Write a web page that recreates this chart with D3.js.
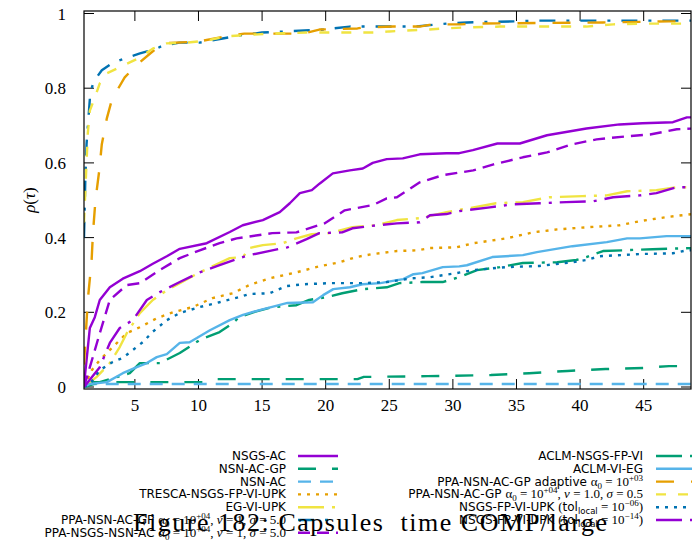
<!DOCTYPE html>
<html><head><meta charset="utf-8">
<script src="https://cdn.jsdelivr.net/npm/d3@7"></script>
<style>body{margin:0;background:#fff}svg{display:block}</style>
</head><body>
<svg id="c" width="692" height="544"></svg>
<script>
// ---- data (tau, rho) ----
const NSGS_AC = [[1,0.005],[1.46,0.158],[1.85,0.187],[2.24,0.233],[3.03,0.267],[4.05,0.29],[5.39,0.31],[6.41,0.33],[7.51,0.35],[8.53,0.37],[10.65,0.385],[12.46,0.415],[13.48,0.433],[15.06,0.447],[16.39,0.468],[17.18,0.492],[17.97,0.519],[18.91,0.527],[19.54,0.545],[20.56,0.572],[21.9,0.58],[22.92,0.585],[23.7,0.6],[24.8,0.61],[26.06,0.612],[27.4,0.623],[29.5,0.626],[30.5,0.626],[31.57,0.634],[33.5,0.652],[35.26,0.652],[37.4,0.674],[40.5,0.692],[43.1,0.703],[44.9,0.706],[47.3,0.709],[48.4,0.722],[48.8,0.722]];
const NSN_AC_GP = [[1,0],[1.5,0.013],[10.5,0.013],[11,0.021],[22.5,0.021],[23,0.027],[28,0.029],[33,0.032],[36,0.037],[39,0.043],[42,0.048],[45,0.051],[47,0.056],[48.8,0.056]];
const NSN_AC = [[1,0.004],[1.3,0.008],[48.8,0.008]];
const TRESCA = [[1,0],[1.61,0.045],[2.24,0.072],[3.26,0.107],[4.36,0.144],[5.39,0.16],[6.72,0.184],[7.98,0.2],[9.55,0.214],[11.1,0.238],[12.7,0.251],[14.0,0.273],[15.6,0.291],[17.7,0.307],[19.5,0.323],[21.1,0.334],[22.4,0.348],[23.7,0.356],[25.6,0.364],[27.2,0.366],[28.2,0.372],[30.3,0.374],[31.6,0.385],[34.2,0.398],[36.3,0.414],[38.2,0.422],[40.7,0.428],[43.1,0.433],[44.7,0.444],[46.8,0.455],[48.8,0.463]];
const EG_VI_UPK = [[1,0],[2.0,0.027],[3.03,0.064],[3.81,0.107],[4.36,0.144],[5.39,0.198],[6.41,0.233],[7.51,0.259],[8.53,0.278],[10.1,0.307],[12.46,0.345],[13.5,0.348],[14.0,0.372],[15.06,0.38],[16.6,0.385],[17.7,0.398],[18.9,0.409],[20.3,0.412],[22.1,0.428],[24.0,0.433],[25.6,0.447],[27.4,0.452],[29.5,0.468],[31.3,0.479],[33.4,0.492],[35.5,0.495],[37.6,0.508],[40.2,0.511],[42.1,0.513],[43.7,0.524],[46.0,0.527],[47.6,0.535],[48.8,0.535]];
const PPA_GP_NU5 = [[1,0.40],[1.1,0.55],[1.2,0.65],[1.5,0.79],[1.8,0.82],[2.4,0.848],[3.3,0.869],[4.4,0.882],[5.4,0.893],[6.7,0.906],[7.2,0.914],[8.5,0.922],[10.1,0.922],[11.9,0.933],[13.2,0.941],[15.0,0.949],[16.9,0.952],[19.8,0.957],[20.6,0.96],[21.9,0.965],[27.0,0.965],[29.5,0.973],[31.1,0.976],[34.8,0.979],[36.5,0.981],[48.8,0.981]];
const PPA_NSGS_NSN = [[1,0],[1.46,0.053],[2.24,0.144],[3.03,0.233],[4.36,0.273],[5.39,0.278],[6.96,0.313],[8.53,0.345],[10.1,0.366],[11.66,0.385],[13.0,0.398],[15.8,0.412],[17.7,0.414],[19.9,0.438],[21.5,0.473],[23.7,0.487],[24.8,0.505],[25.6,0.508],[27.4,0.548],[29.2,0.567],[31.6,0.58],[33.2,0.596],[35.5,0.615],[37.4,0.628],[39.4,0.65],[41.3,0.663],[43.6,0.671],[45.5,0.676],[47.6,0.69],[48.8,0.692]];
const ACLM_NSGS = [[1,0],[2.24,0.013],[4.6,0.037],[5.39,0.064],[6.96,0.064],[8.53,0.091],[10.1,0.126],[11.66,0.147],[12.7,0.171],[13.2,0.187],[14.3,0.2],[15.8,0.214],[17.7,0.219],[18.7,0.233],[20.1,0.241],[21.3,0.251],[22.9,0.262],[24.8,0.267],[25.8,0.278],[27.6,0.281],[29.2,0.281],[30.5,0.294],[31.9,0.313],[33.7,0.321],[35.5,0.332],[38.2,0.334],[39.7,0.34],[40.5,0.348],[41.8,0.364],[45.7,0.369],[48.8,0.372]];
const ACLM_VI_EG = [[1,0],[1.46,0.008],[2.8,0.013],[4.05,0.037],[5.15,0.053],[5.94,0.064],[6.72,0.08],[7.51,0.088],[8.53,0.118],[9.3,0.12],[9.87,0.131],[10.9,0.152],[12.46,0.179],[13.5,0.193],[14.8,0.206],[16.1,0.217],[17.0,0.225],[19.0,0.227],[19.8,0.246],[20.6,0.262],[21.9,0.267],[22.9,0.275],[24.3,0.278],[25.6,0.286],[26.1,0.289],[26.9,0.302],[27.6,0.305],[29.2,0.321],[30.5,0.323],[31.1,0.326],[33.1,0.348],[35.5,0.353],[36.6,0.361],[39.4,0.377],[42.1,0.388],[43.7,0.398],[44.7,0.398],[46.8,0.404],[48.8,0.404]];
const PPA_ADAPTIVE = [[1,0.06],[1.3,0.233],[1.6,0.34],[1.7,0.41],[1.9,0.5],[2.2,0.58],[2.4,0.65],[2.8,0.72],[3.2,0.77],[3.6,0.794],[4.2,0.829],[5.1,0.861],[6.2,0.893],[7.2,0.92],[10,0.925],[12.5,0.941],[13.6,0.946],[18.2,0.946],[19.5,0.957],[22.5,0.96],[23.0,0.963],[25.3,0.965],[27.4,0.965],[28.4,0.971],[30.6,0.971],[31.4,0.973],[41.8,0.976],[47.0,0.979],[48.8,0.979]];
const PPA_GP_SIG05 = [[1,0.44],[1.14,0.553],[1.3,0.68],[1.46,0.74],[1.85,0.775],[2.24,0.813],[2.8,0.84],[3.8,0.856],[4.6,0.869],[5.4,0.882],[6.4,0.906],[7.5,0.92],[9.1,0.922],[10.7,0.928],[12.2,0.939],[13.2,0.941],[15.6,0.946],[18.5,0.949],[24.0,0.949],[25.0,0.952],[28.0,0.957],[29.3,0.96],[31.1,0.963],[33.7,0.965],[40.5,0.965],[42.6,0.971],[45.3,0.973],[48.8,0.973]];
const FPVI_TOL6 = [[1,0],[1.46,0.008],[2.24,0.045],[3.26,0.067],[4.05,0.078],[4.84,0.099],[5.62,0.12],[6.41,0.148],[7.51,0.179],[8.53,0.198],[10.1,0.214],[11.66,0.227],[13.2,0.241],[14.0,0.249],[15.6,0.251],[16.9,0.27],[18.2,0.275],[20.3,0.278],[22.9,0.278],[24.8,0.281],[26.8,0.291],[28.2,0.294],[30.3,0.305],[31.6,0.313],[34.2,0.321],[36.8,0.324],[39.4,0.334],[40.5,0.34],[41.5,0.35],[44.7,0.356],[47.3,0.358],[48.4,0.366],[48.8,0.366]];
const FPVI_TOL14 = [[1,0],[2.24,0.053],[3.03,0.118],[3.81,0.158],[4.84,0.179],[5.94,0.233],[6.96,0.254],[8.53,0.281],[10.1,0.307],[11.66,0.326],[13.2,0.345],[14.0,0.353],[15.8,0.366],[17.0,0.374],[18.5,0.396],[19.5,0.412],[21.3,0.414],[22.1,0.425],[24.0,0.433],[25.6,0.438],[27.4,0.441],[28.2,0.46],[29.5,0.463],[30.5,0.471],[32.9,0.481],[34.7,0.489],[36.8,0.492],[38.9,0.495],[41.0,0.497],[42.6,0.508],[44.7,0.513],[46.0,0.519],[47.6,0.535],[48.8,0.535]];

const xTicks = [5,10,15,20,25,30,35,40,45];
const yTicks = [0,0.2,0.4,0.6,0.8,1];
const yTickLabels = ["0","0.2","0.4","0.6","0.8","1"];

// series order (legend column-major)
const series = [
  {d:NSGS_AC, c:"#9400D3", dash:null, lab:[["s","NSGS-AC"]]},
  {d:NSN_AC_GP, c:"#009E73", dash:"18,16", lab:[["s","NSN-AC-GP"]]},
  {d:NSN_AC, c:"#56B4E9", dash:"13,9", lab:[["s","NSN-AC"]]},
  {d:TRESCA, c:"#E69F00", dash:"3,6", lab:[["s","TRESCA-NSGS-FP-VI-UPK"]]},
  {d:EG_VI_UPK, c:"#F0E442", dash:"26,8,3,8", lab:[["s","EG-VI-UPK"]]},
  {d:PPA_GP_NU5, c:"#0072B2", dash:"16,11,3,11", lab:[["s","PPA-NSN-AC-GP "],["m","α"],["sub","0"],["m"," = 10"],["sup","+04"],["m",", "],["mi","ν"],["m"," = 1, "],["mi","σ"],["m"," = 5.0"]]},
  {d:PPA_NSGS_NSN, c:"#9400D3", dash:"12,7", lab:[["s","PPA-NSGS-NSN-AC "],["m","α"],["sub","0"],["m"," = 10"],["sup","+04"],["m",", "],["mi","ν"],["m"," = 1, "],["mi","σ"],["m"," = 5.0"]]},
  {d:ACLM_NSGS, c:"#009E73", dash:"26,8,3,8", lab:[["s","ACLM-NSGS-FP-VI"]]},
  {d:ACLM_VI_EG, c:"#56B4E9", dash:null, lab:[["s","ACLM-VI-EG"]]},
  {d:PPA_ADAPTIVE, c:"#E69F00", dash:"18,17", lab:[["s","PPA-NSN-AC-GP adaptive "],["m","α"],["sub","0"],["m"," = 10"],["sup","+03"]]},
  {d:PPA_GP_SIG05, c:"#F0E442", dash:"10,12", lab:[["s","PPA-NSN-AC-GP "],["m","α"],["sub","0"],["m"," = 10"],["sup","+04"],["m",", "],["mi","ν"],["m"," = 1.0, "],["mi","σ"],["m"," = 0.5"]]},
  {d:FPVI_TOL6, c:"#0072B2", dash:"3,6", lab:[["s","NSGS-FP-VI-UPK "],["m","("],["s","tol"],["ssub","local"],["m"," = 10"],["sup","−06"],["m",")"]]},
  {d:FPVI_TOL14, c:"#9400D3", dash:"26,8,3,8", lab:[["s","NSGS-FP-VI-UPK "],["m","("],["s","tol"],["ssub","local"],["m"," = 10"],["sup","−14"],["m",")"]]}
];

const svg = d3.select("#c");
const L=84, R=691, T=11, B=389;
const x = d3.scaleLinear().domain([1, 1+(R-L)/12.72]).range([L,R]);
const y = d3.scaleLinear().domain([(387-B)/373.5, (387-T)/373.5]).range([B,T]);
const serif = "'Liberation Serif', 'DejaVu Serif', serif";
const sans = "'DejaVu Sans', sans-serif";

svg.append("clipPath").attr("id","clip").append("rect").attr("x",L).attr("y",T).attr("width",R-L).attr("height",B-T);

// ticks
const tk = svg.append("g").attr("stroke","#000").attr("stroke-width",1);
xTicks.forEach(t=>{
  tk.append("line").attr("x1",x(t)).attr("x2",x(t)).attr("y1",B).attr("y2",B-10);
  tk.append("line").attr("x1",x(t)).attr("x2",x(t)).attr("y1",T).attr("y2",T+10);
});
yTicks.forEach(t=>{
  tk.append("line").attr("x1",L).attr("x2",L+10).attr("y1",y(t)).attr("y2",y(t));
  tk.append("line").attr("x1",R).attr("x2",R-10).attr("y1",y(t)).attr("y2",y(t));
});
xTicks.forEach(t=>{
  svg.append("text").attr("x",x(t)).attr("y",411).attr("text-anchor","middle")
    .attr("font-family",serif).attr("font-size",17).text(t);
});
yTicks.forEach((t,i)=>{
  svg.append("text").attr("x",66).attr("y",y(t)+6).attr("text-anchor","end")
    .attr("font-family",serif).attr("font-size",17).text(yTickLabels[i]);
});
// y label
const yl = svg.append("text").attr("transform","translate(35,200) rotate(-90)").attr("text-anchor","middle")
  .attr("font-family",serif).attr("font-size",17);
yl.append("tspan").attr("font-style","italic").text("ρ");
yl.append("tspan").text("(");
yl.append("tspan").attr("font-style","italic").text("τ");
yl.append("tspan").text(")");

// lines
const line = d3.line().x(d=>x(d[0])).y(d=>y(d[1]));
const gl = svg.append("g").attr("clip-path","url(#clip)");
series.forEach(s=>{
  gl.append("path").attr("d",line(s.d)).attr("fill","none").attr("stroke",s.c)
    .attr("stroke-width",2.4).attr("stroke-dasharray",s.dash).attr("stroke-linejoin","round");
});

// border
svg.append("rect").attr("x",L).attr("y",T).attr("width",R-L).attr("height",B-T)
  .attr("fill","none").attr("stroke","#000").attr("stroke-width",1.2);

// legend
function label(g, xr, yb, parts){
  const t = g.append("text").attr("x",xr).attr("y",yb).attr("text-anchor","end").attr("font-size",12).attr("font-family",sans).attr("fill","#000");
  parts.forEach(([k,v])=>{
    const sp = t.append("tspan").text(v);
    if(k==="m"){ sp.attr("font-family",serif).attr("font-size",13); }
    else if(k==="mi"){ sp.attr("font-family",serif).attr("font-style","italic").attr("font-size",13); }
    else if(k==="sub"){ sp.attr("font-family",serif).attr("font-size",9).attr("dy",3); }
    else if(k==="ssub"){ sp.attr("font-size",8.5).attr("dy",3); }
    else if(k==="sup"){ sp.attr("font-family",serif).attr("font-size",9).attr("dy",-5); }
    // reset baseline after sub/sup
    if(k==="sub"||k==="ssub"){ sp.attr("data-r",-3); }
    if(k==="sup"){ sp.attr("data-r",5); }
  });
  // apply baseline resets: next tspan after shifted one gets opposite dy
  const tsp = t.selectAll("tspan").nodes();
  for(let i=0;i<tsp.length-1;i++){
    const r = tsp[i].getAttribute("data-r");
    if(r!==null){ tsp[i+1].setAttribute("dy", r); }
  }
  return t;
}
const lg = svg.append("g");
series.forEach((s,i)=>{
  const col = i<7?0:1, row = i<7?i:i-7;
  const yy = 456 + row*12.8;
  const xt = col===0?286:643, x0 = col===0?298:656, x1 = col===0?338:696;
  label(lg, xt, yy+4, s.lab);
  lg.append("line").attr("x1",x0).attr("x2",x1).attr("y1",yy).attr("y2",yy)
    .attr("stroke",s.c).attr("stroke-width",2.4).attr("stroke-dasharray",s.dash);
});

// caption
svg.append("text").attr("x",133).attr("y",531).attr("font-family",serif).attr("font-size",26)
  .attr("textLength",474).attr("lengthAdjust","spacing").attr("fill","#000")
  .text("Figure 182: Capsules\u00a0 time COMP/large");
</script>
</body></html>
